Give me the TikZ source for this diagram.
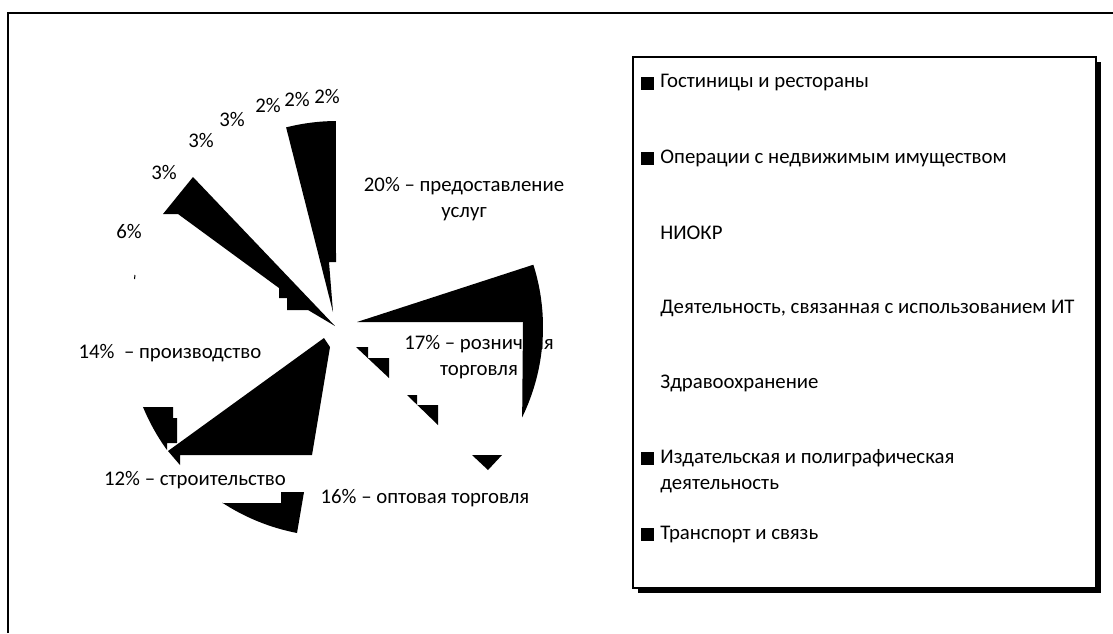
\documentclass[tikz,border=0pt]{standalone}
\usepackage{fontspec}
\setmainfont{Carlito}
\usetikzlibrary{calc}
\begin{document}
\begin{tikzpicture}[x=0.5pt,y=-0.5pt,
  lbl/.style={inner sep=0pt,font=\fontsize{10.4}{13}\selectfont,align=center},
  leg/.style={inner sep=0pt,anchor=west,font=\fontsize{10.4}{13}\selectfont,align=left},
  mk/.style={fill=black},
  piece/.style={fill=black}]
\useasboundingbox (0,0) rectangle (1113,633);
% outer frame
\draw[line width=1.2pt] (8,633) -- (8,13) -- (1113,13);
\coordinate (O) at (337,327);
% label partly covered
\node[lbl] (l17) at (479,357) {17\% – розничная\\торговля};
% pie fragments
\fill[piece] (O) ++(-104.3:206) arc[start angle=-104.3,end angle=-90.3,radius=206] -- (336,262) -- (329,262) -- (333,312) -- cycle;
\fill[piece] (193,177) -- (335,326) -- (308,310) -- (287,310) -- (287,298) -- (279,298) -- (279,288) -- (178,214) -- (163,214) -- cycle;
\fill[piece] (357,322) -- ($(O)+(-17.6:206)$) arc[start angle=-17.6,end angle=26,radius=206] -- (523,322) -- cycle;
\fill[piece] (356,347) -- (368,347) -- (368,358) -- (389,358) -- (389,378) -- cycle;
\fill[piece] (407,395) -- (417,395) -- (417,405) -- (438,405) -- (438,425) -- cycle;
\fill[piece] (472,455) -- (502,455) -- (488,470) -- cycle;
\fill[piece] (324,338) -- (330,347) -- (312,455) -- (180,455) -- (180,465) -- (168,451) -- cycle;
\fill[piece] (143,407) -- (173,407) -- (173,418) -- (177,418) -- (177,443) -- (167,443) -- (167,450) arc[start angle=144.1,end angle=157.6,radius=210] -- cycle;
\fill[piece] (222,503) -- (281,503) -- (281,492) -- (304,492) -- (297,533) arc[start angle=101,end angle=123.2,radius=210] -- cycle;
\draw[line width=0.5pt] (135,275) -- (134.5,279);
% labels
\node[lbl] (p1) at (268,105) {2\%};
\node[lbl] (p2) at (297,99) {2\%};
\node[lbl] (p3) at (327,96) {2\%};
\node[lbl] (p4) at (232,119) {3\%};
\node[lbl] (p5) at (201,140) {3\%};
\node[lbl] (p6) at (164,172) {3\%};
\node[lbl] (p7) at (129,231) {6\%};
\node[lbl] (l20) at (464,199) {20\% – предоставление\\услуг};
\node[lbl] (l14) at (170,353) {14\%~~– производство};
\node[lbl] (l12) at (195,480) {12\% – строительство};
\node[lbl] (l16) at (425,498) {16\% – оптовая торговля};
% legend
\fill (638,62) rectangle (1101,593);
\draw[line width=1.2pt,fill=white] (633,57) rectangle (1096,588);
\fill[mk] (641,77) rectangle (654,90);
\node[leg] (g1) at (660,83) {Гостиницы и рестораны};
\fill[mk] (641,152) rectangle (654,165);
\node[leg] (g2) at (660,158) {Операции с недвижимым имуществом};
\node[leg] (g3) at (660,233) {НИОКР};
\node[leg] (g4) at (660,308) {Деятельность, связанная с использованием ИТ};
\node[leg] (g5) at (660,383) {Здравоохранение};
\fill[mk] (641,452) rectangle (654,465);
\node[leg] (g6) at (660,471) {Издательская и полиграфическая\\деятельность};
\fill[mk] (641,528) rectangle (654,541);
\node[leg] (g7) at (660,534) {Транспорт и связь};
\end{tikzpicture}
\end{document}
